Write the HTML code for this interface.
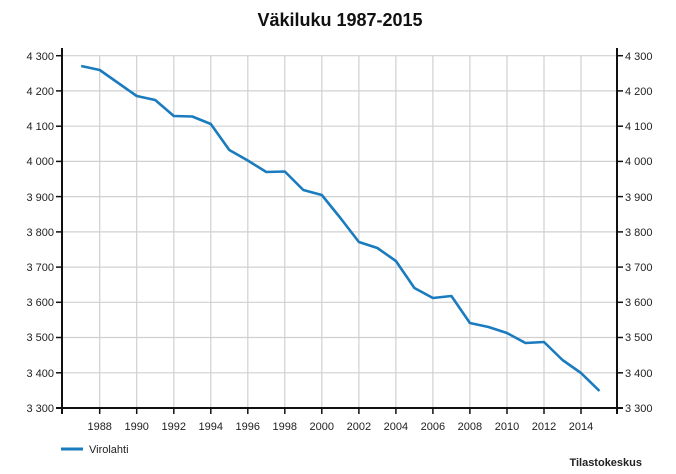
<!DOCTYPE html><html><head><style>body{margin:0;background:#fff}svg{display:block;font-family:"Liberation Sans",Arial,sans-serif}</style></head><body>
<svg width="676" height="474" viewBox="0 0 676 474" xmlns="http://www.w3.org/2000/svg">
<text x="340" y="26" text-anchor="middle" font-size="18" font-weight="bold" fill="#111">Väkiluku 1987-2015</text>
<g stroke="#d0d0d0" stroke-width="1.2">
<line x1="62" x2="617" y1="55.7" y2="55.7"/><line x1="62" x2="617" y1="90.9" y2="90.9"/><line x1="62" x2="617" y1="126.2" y2="126.2"/><line x1="62" x2="617" y1="161.4" y2="161.4"/><line x1="62" x2="617" y1="196.6" y2="196.6"/><line x1="62" x2="617" y1="231.9" y2="231.9"/><line x1="62" x2="617" y1="267.1" y2="267.1"/><line x1="62" x2="617" y1="302.3" y2="302.3"/><line x1="62" x2="617" y1="337.5" y2="337.5"/><line x1="62" x2="617" y1="372.8" y2="372.8"/>
<line y1="55.7" y2="408" x1="99.7" x2="99.7"/><line y1="55.7" y2="408" x1="136.7" x2="136.7"/><line y1="55.7" y2="408" x1="173.8" x2="173.8"/><line y1="55.7" y2="408" x1="210.8" x2="210.8"/><line y1="55.7" y2="408" x1="247.8" x2="247.8"/><line y1="55.7" y2="408" x1="284.8" x2="284.8"/><line y1="55.7" y2="408" x1="321.8" x2="321.8"/><line y1="55.7" y2="408" x1="358.9" x2="358.9"/><line y1="55.7" y2="408" x1="395.9" x2="395.9"/><line y1="55.7" y2="408" x1="432.9" x2="432.9"/><line y1="55.7" y2="408" x1="469.9" x2="469.9"/><line y1="55.7" y2="408" x1="507" x2="507"/><line y1="55.7" y2="408" x1="544" x2="544"/><line y1="55.7" y2="408" x1="581" x2="581"/>
</g>
<g stroke="#111" stroke-width="2">
<line x1="62" x2="62" y1="48" y2="414"/><line x1="617" x2="617" y1="48" y2="414"/><line x1="56" x2="623" y1="408" y2="408"/>
</g>
<g stroke="#111" stroke-width="1.5">
<line x1="56" x2="62" y1="55.7" y2="55.7"/><line x1="56" x2="62" y1="90.9" y2="90.9"/><line x1="56" x2="62" y1="126.2" y2="126.2"/><line x1="56" x2="62" y1="161.4" y2="161.4"/><line x1="56" x2="62" y1="196.6" y2="196.6"/><line x1="56" x2="62" y1="231.9" y2="231.9"/><line x1="56" x2="62" y1="267.1" y2="267.1"/><line x1="56" x2="62" y1="302.3" y2="302.3"/><line x1="56" x2="62" y1="337.5" y2="337.5"/><line x1="56" x2="62" y1="372.8" y2="372.8"/>
<line x1="617" x2="623" y1="55.7" y2="55.7"/><line x1="617" x2="623" y1="90.9" y2="90.9"/><line x1="617" x2="623" y1="126.2" y2="126.2"/><line x1="617" x2="623" y1="161.4" y2="161.4"/><line x1="617" x2="623" y1="196.6" y2="196.6"/><line x1="617" x2="623" y1="231.9" y2="231.9"/><line x1="617" x2="623" y1="267.1" y2="267.1"/><line x1="617" x2="623" y1="302.3" y2="302.3"/><line x1="617" x2="623" y1="337.5" y2="337.5"/><line x1="617" x2="623" y1="372.8" y2="372.8"/>
<line y1="408" y2="414" x1="99.7" x2="99.7"/><line y1="408" y2="414" x1="136.7" x2="136.7"/><line y1="408" y2="414" x1="173.8" x2="173.8"/><line y1="408" y2="414" x1="210.8" x2="210.8"/><line y1="408" y2="414" x1="247.8" x2="247.8"/><line y1="408" y2="414" x1="284.8" x2="284.8"/><line y1="408" y2="414" x1="321.8" x2="321.8"/><line y1="408" y2="414" x1="358.9" x2="358.9"/><line y1="408" y2="414" x1="395.9" x2="395.9"/><line y1="408" y2="414" x1="432.9" x2="432.9"/><line y1="408" y2="414" x1="469.9" x2="469.9"/><line y1="408" y2="414" x1="507" x2="507"/><line y1="408" y2="414" x1="544" x2="544"/><line y1="408" y2="414" x1="581" x2="581"/>
</g>
<g font-size="11" fill="#222" text-anchor="end">
<text x="54" y="60">4 300</text><text x="54" y="95">4 200</text><text x="54" y="130">4 100</text><text x="54" y="165">4 000</text><text x="54" y="201">3 900</text><text x="54" y="236">3 800</text><text x="54" y="271">3 700</text><text x="54" y="306">3 600</text><text x="54" y="341">3 500</text><text x="54" y="377">3 400</text><text x="54" y="412">3 300</text>
</g>
<g font-size="11" fill="#222">
<text x="625" y="60">4 300</text><text x="625" y="95">4 200</text><text x="625" y="130">4 100</text><text x="625" y="165">4 000</text><text x="625" y="201">3 900</text><text x="625" y="236">3 800</text><text x="625" y="271">3 700</text><text x="625" y="306">3 600</text><text x="625" y="341">3 500</text><text x="625" y="377">3 400</text><text x="625" y="412">3 300</text>
</g>
<g font-size="11" fill="#222" text-anchor="middle">
<text x="99.7" y="430">1988</text><text x="136.7" y="430">1990</text><text x="173.8" y="430">1992</text><text x="210.8" y="430">1994</text><text x="247.8" y="430">1996</text><text x="284.8" y="430">1998</text><text x="321.8" y="430">2000</text><text x="358.9" y="430">2002</text><text x="395.9" y="430">2004</text><text x="432.9" y="430">2006</text><text x="469.9" y="430">2008</text><text x="507" y="430">2010</text><text x="544" y="430">2012</text><text x="581" y="430">2014</text>
</g>
<polyline fill="none" stroke="#1a7bbf" stroke-width="2.6" stroke-linejoin="round" points="81.2,66 99.7,70 118.2,83 136.7,96 155.2,100 173.8,116 192.3,116.5 210.8,124 229.3,150 247.8,160.5 266.3,172 284.8,171.5 303.3,190 321.8,195 340.4,218 358.9,242 377.4,248 395.9,261 414.4,288 432.9,298 451.4,296 469.9,323 488.5,327 507,333 525.5,343 544,342 562.5,360 581,373 599.5,391"/>
<line x1="61" x2="83" y1="449" y2="449" stroke="#1a7bbf" stroke-width="3"/>
<text x="89" y="453" font-size="11" fill="#222">Virolahti</text>
<text x="642" y="466" font-size="11" font-weight="bold" fill="#222" text-anchor="end">Tilastokeskus</text>
</svg>
</body></html>
